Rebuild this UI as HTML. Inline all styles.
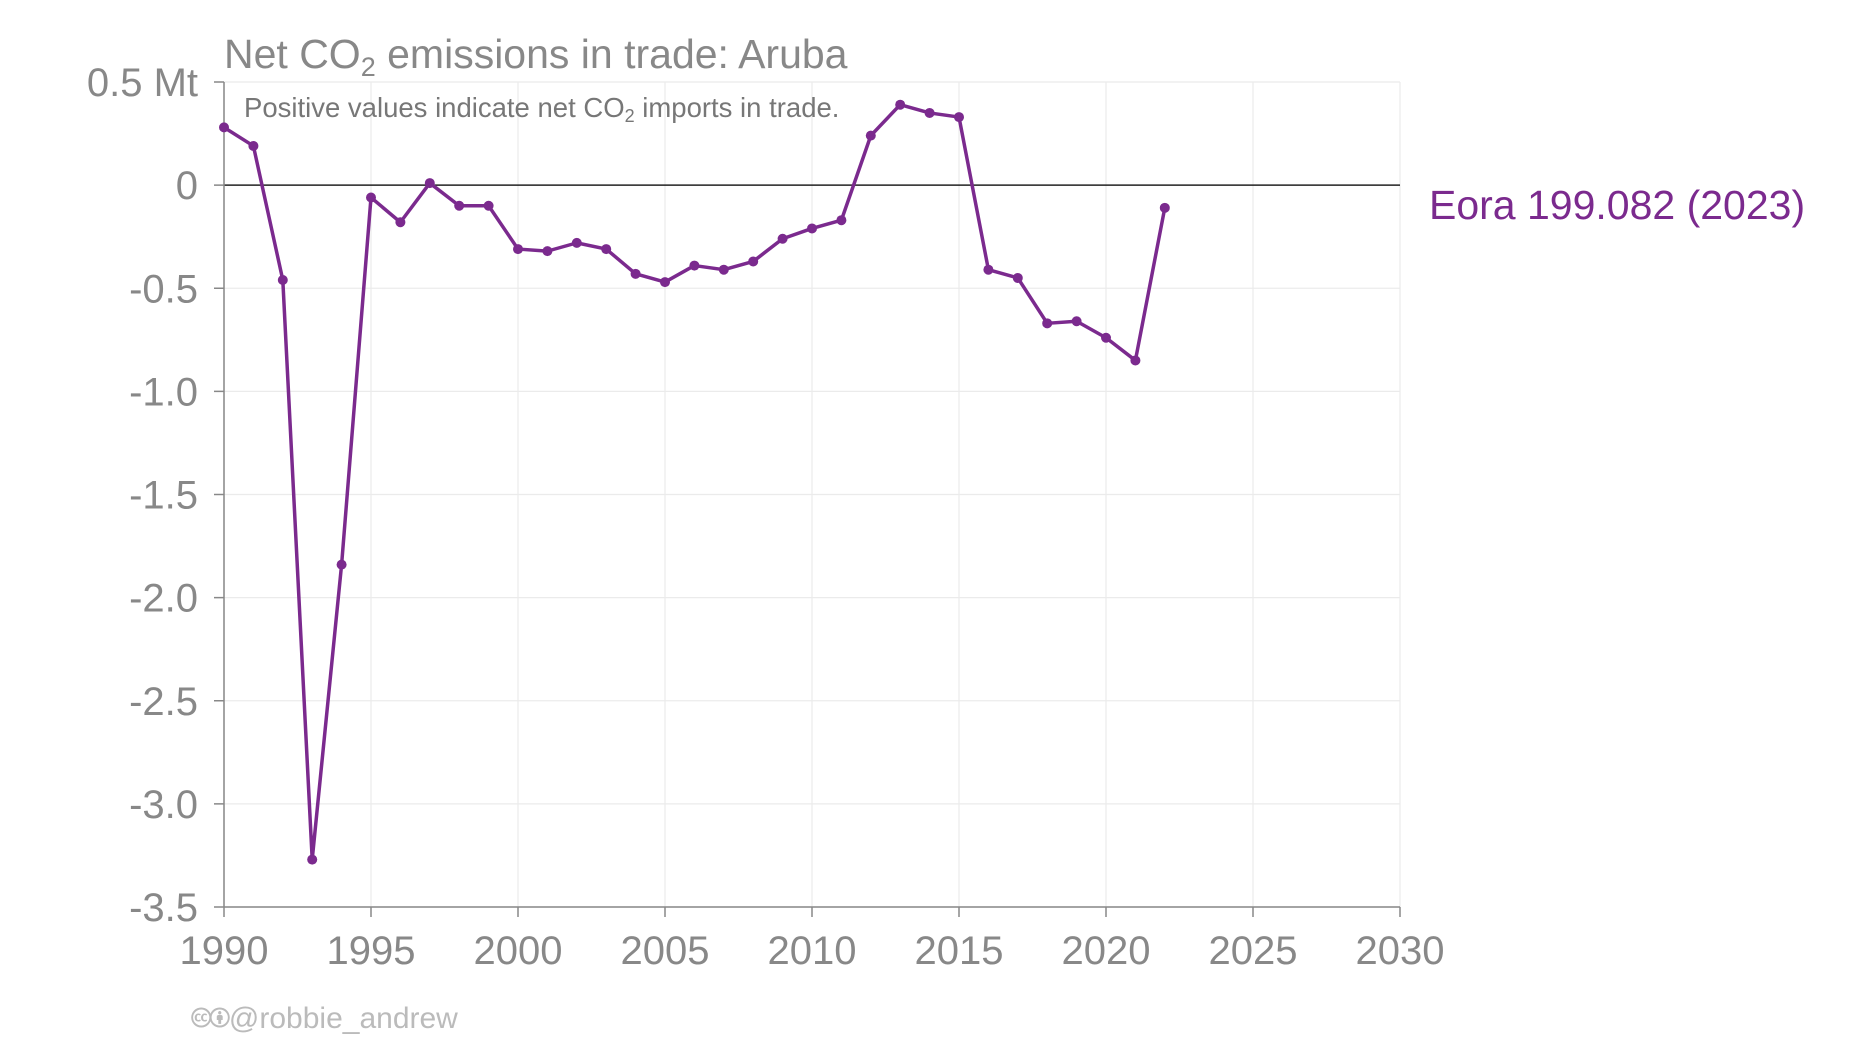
<!DOCTYPE html>
<html><head><meta charset="utf-8"><style>
body{margin:0;background:#fff;}
svg{display:block;font-family:"Liberation Sans",sans-serif;}
</style></head><body>
<svg id="chart" width="1852" height="1042">
<g id="grid"></g>
<g id="axes"></g>
<g id="series"></g>
<text x="224" y="68" font-size="41" fill="#888">Net CO<tspan font-size="27" dy="8">2</tspan><tspan dy="-8"> emissions in trade: Aruba</tspan></text>
<text x="244" y="117" font-size="27.5" fill="#777">Positive values indicate net CO<tspan font-size="18" dy="5">2</tspan><tspan dy="-5"> imports in trade.</tspan></text>
<text x="1429" y="219" font-size="41" fill="#7b2a8e">Eora 199.082 (2023)</text>
<text x="192" y="1028" font-size="30" fill="#bbb">🅭🅯@robbie_andrew</text>
</svg>
<script>
const years=[1990,1991,1992,1993,1994,1995,1996,1997,1998,1999,2000,2001,2002,2003,2004,2005,2006,2007,2008,2009,2010,2011,2012,2013,2014,2015,2016,2017,2018,2019,2020,2021,2022];
const values=[0.28,0.19,-0.46,-3.27,-1.84,-0.06,-0.18,0.01,-0.10,-0.10,-0.31,-0.32,-0.28,-0.31,-0.43,-0.47,-0.39,-0.41,-0.37,-0.26,-0.21,-0.17,0.24,0.39,0.35,0.33,-0.41,-0.45,-0.67,-0.66,-0.74,-0.85,-0.11];
const xTicks=[1990,1995,2000,2005,2010,2015,2020,2025,2030];
const yTicks=[0.5,0,-0.5,-1,-1.5,-2,-2.5,-3,-3.5];
const yTickLabels=["0.5 Mt","0","-0.5","-1.0","-1.5","-2.0","-2.5","-3.0","-3.5"];
const X0=224,X1=1400,Y0=82,Y1=907;
const xs=v=>X0+(v-1990)/40*(X1-X0);
const ys=v=>Y0+(0.5-v)/4*(Y1-Y0);
const NS="http://www.w3.org/2000/svg";
function mk(t,a,p){const e=document.createElementNS(NS,t);for(const k in a)e.setAttribute(k,a[k]);p.appendChild(e);return e;}
const grid=document.getElementById('grid'),axes=document.getElementById('axes'),ser=document.getElementById('series');
xTicks.forEach(t=>{
 const l=mk('line',{x1:xs(t),x2:xs(t),y1:Y0,y2:Y1,stroke:'#ebebeb','stroke-width':1.2},grid);
 
 
 const tk=mk('line',{x1:xs(t),x2:xs(t),y1:Y1,y2:Y1+10,stroke:'#888','stroke-width':1.5},axes);
 
 
 const tx=mk('text',{x:xs(t),y:Y1+57,'font-size':40,fill:'#888','text-anchor':'middle'},axes);
 tx.textContent=t;
 
 
});
yTicks.forEach((t,i)=>{
 const l=mk('line',{x1:X0,x2:X1,y1:ys(t),y2:ys(t),stroke:t===0?'#222':'#ebebeb','stroke-width':t===0?1.5:1.2},grid);
 
 
 const tk=mk('line',{x1:X0-10,x2:X0,y1:ys(t),y2:ys(t),stroke:'#888','stroke-width':1.5},axes);
 
 
 const tx=mk('text',{x:X0-26,y:ys(t)+14,'font-size':40,fill:'#888','text-anchor':'end'},axes);
 tx.textContent=yTickLabels[i];
 
 
});
const ya=mk('line',{x1:X0,x2:X0,y1:Y0,y2:Y1,stroke:'#888','stroke-width':1.5},axes);


const xa=mk('line',{x1:X0,x2:X1,y1:Y1,y2:Y1,stroke:'#888','stroke-width':1.5},axes);


const pts=years.map((y,i)=>xs(y)+','+ys(values[i])).join(' ');
const pl=mk('polyline',{points:pts,fill:'none',stroke:'#7b2a8e','stroke-width':3.5,'stroke-linejoin':'round'},ser);


years.forEach((y,i)=>{
 const c=mk('circle',{cx:xs(y),cy:ys(values[i]),r:5,fill:'#7b2a8e'},ser);
 
 
});
</script>
</body></html>
